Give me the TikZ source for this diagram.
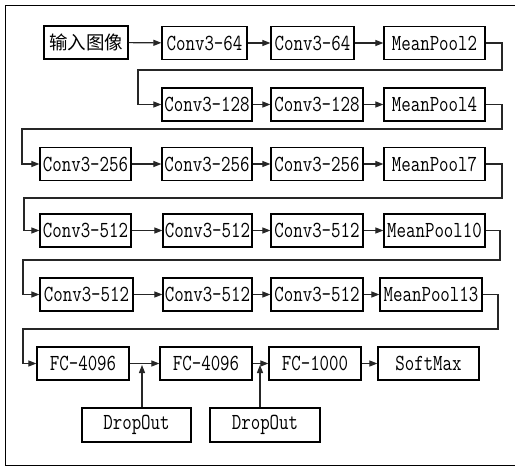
\documentclass[tikz,border=0pt]{standalone}
\usepackage{fontspec}
\usepackage{graphicx}
\newfontfamily\cjk{Noto Sans CJK SC}
\usetikzlibrary{arrows.meta}
\newcommand\tx[1]{\scalebox{0.8}[1]{#1}}
\tikzset{
  blk/.style={draw=black, line width=1.2pt, inner sep=0pt, minimum height=33pt,
    font=\fontsize{23}{23}\selectfont\ttfamily},
  arr/.style={draw=black!85, line width=1.1pt, -{Triangle[length=8pt,width=6pt]}},
  ln/.style={draw=black!85, line width=1.1pt}
}
\begin{document}
\begin{tikzpicture}[x=1pt,y=-1pt]
\useasboundingbox (0,0) rectangle (515,466);
\draw[line width=1pt] (515,5) -- (5,5) -- (5,465) -- (515,465);
% row 1
\node[blk, minimum width=84pt, font=\fontsize{18.5}{18.5}\selectfont\cjk] (in) at (86,42.5) {输入图像};
\node[blk, minimum width=85pt] (a1) at (204.5,43) {\tx{Conv3-64}};
\node[blk, minimum width=83pt] (a2) at (312.5,43) {\tx{Conv3-64}};
\node[blk, minimum width=101pt] (a3) at (434.5,43) {\tx{MeanPool2}};
% row 2
\node[blk, minimum width=90pt] (b1) at (207,104.5) {\tx{Conv3-128}};
\node[blk, minimum width=92pt] (b2) at (317,104.5) {\tx{Conv3-128}};
\node[blk, minimum width=101pt] (b3) at (434.5,104.5) {\tx{MeanPool4}};
% row 3
\node[blk, minimum width=91pt] (c1) at (85.5,164) {\tx{Conv3-256}};
\node[blk, minimum width=90pt] (c2) at (207,164) {\tx{Conv3-256}};
\node[blk, minimum width=92pt] (c3) at (317,164) {\tx{Conv3-256}};
\node[blk, minimum width=101pt] (c4) at (434.5,164) {\tx{MeanPool7}};
% row 4
\node[blk, minimum width=91pt] (d1) at (85.5,230.5) {\tx{Conv3-512}};
\node[blk, minimum width=89pt] (d2) at (207.5,230.5) {\tx{Conv3-512}};
\node[blk, minimum width=92pt] (d3) at (317,230.5) {\tx{Conv3-512}};
\node[blk, minimum width=101pt] (d4) at (434.5,230.5) {\tx{MeanPool10}};
% row 5
\node[blk, minimum width=93pt] (e1) at (86.5,294.5) {\tx{Conv3-512}};
\node[blk, minimum width=89pt] (e2) at (207.5,294.5) {\tx{Conv3-512}};
\node[blk, minimum width=92pt] (e3) at (317,294.5) {\tx{Conv3-512}};
\node[blk, minimum width=102pt] (e4) at (431,294.5) {\tx{MeanPool13}};
% row 6
\node[blk, minimum width=92pt] (f1) at (83,363.5) {\tx{FC-4096}};
\node[blk, minimum width=92pt] (f2) at (206,363.5) {\tx{FC-4096}};
\node[blk, minimum width=92pt] (f3) at (315,363.5) {\tx{FC-1000}};
\node[blk, minimum width=101pt] (f4) at (428.5,363.5) {\tx{SoftMax}};
\node[blk, minimum width=109pt, minimum height=34pt] (g1) at (136.5,425) {\tx{DropOut}};
\node[blk, minimum width=110pt, minimum height=34pt] (g2) at (265,425) {\tx{DropOut}};
% horizontal arrows
\draw[arr] (in) -- (a1);
\draw[arr] (a1) -- (a2);
\draw[arr] (a2) -- (a3);
\draw[arr] (b1) -- (b2);
\draw[arr] (b2) -- (b3);
\draw[arr] (c1) -- (c2);
\draw[arr] (c2) -- (c3);
\draw[arr] (c3) -- (c4);
\draw[arr] (d1) -- (d2);
\draw[arr] (d2) -- (d3);
\draw[arr] (d3) -- (d4);
\draw[arr] (e1) -- (e2);
\draw[arr] (e2) -- (e3);
\draw[arr] (e3) -- (e4);
\draw[arr] (f1) -- (f2);
\draw[arr] (f2) -- (f3);
\draw[arr] (f3) -- (f4);
% wraps
\draw[arr] (a3.east) -- (502,43) -- (502,70) -- (138,70) |- (b1.west);
\draw[arr] (b3.east) -- (502,104.5) -- (502,129) -- (22,129) |- (c1.west);
\draw[arr] (c4.east) -- (502,164) -- (502,198) -- (24,198) |- (d1.west);
\draw[arr] (d4.east) -- (500,230.5) -- (500,260) -- (23,260) |- (e1.west);
\draw[arr] (e4.east) -- (498,294.5) -- (498,329) -- (23,329) |- (f1.west);
% dropout arrows
\coordinate (j1) at (142,365);
\coordinate (j2) at (260,365);
\draw[arr] (g1.north -| j1) -- (j1);
\draw[arr] (g2.north -| j2) -- (j2);
\end{tikzpicture}
\end{document}
